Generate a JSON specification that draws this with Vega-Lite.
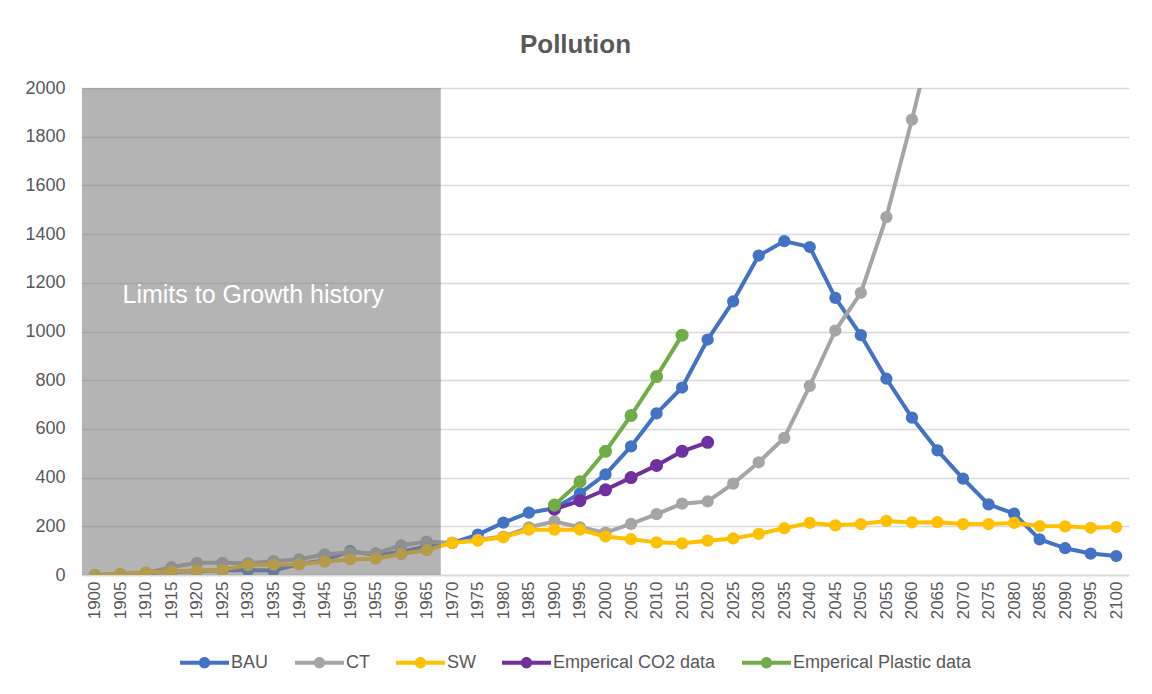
{
  "$schema": "https://vega.github.io/schema/vega-lite/v6.json",
  "width": 1047,
  "height": 487,
  "autosize": "none",
  "padding": {"left": 82, "top": 88, "right": 23, "bottom": 119},
  "background": "white",
  "title": {"text": "Pollution", "fontSize": 26, "fontWeight": "bold", "color": "#595959", "font": "Liberation Sans", "anchor": "middle", "dx": -30, "baseline": "alphabetic", "offset": 0},
  "config": {
    "view": {"stroke": null},
    "font": "Liberation Sans",
    "axis": {"labelColor": "#595959", "labelFont": "Liberation Sans", "titleColor": "#595959"}
  },
  "data": {"values": [
    {"series": "BAU", "year": 1900, "value": 0}, {"series": "BAU", "year": 1905, "value": 3}, {"series": "BAU", "year": 1910, "value": 8}, {"series": "BAU", "year": 1915, "value": 12}, {"series": "BAU", "year": 1920, "value": 16}, {"series": "BAU", "year": 1925, "value": 20}, {"series": "BAU", "year": 1930, "value": 20}, {"series": "BAU", "year": 1935, "value": 18}, {"series": "BAU", "year": 1940, "value": 45}, {"series": "BAU", "year": 1945, "value": 60}, {"series": "BAU", "year": 1950, "value": 98}, {"series": "BAU", "year": 1955, "value": 82}, {"series": "BAU", "year": 1960, "value": 95}, {"series": "BAU", "year": 1965, "value": 118}, {"series": "BAU", "year": 1970, "value": 132}, {"series": "BAU", "year": 1975, "value": 166}, {"series": "BAU", "year": 1980, "value": 215}, {"series": "BAU", "year": 1985, "value": 256}, {"series": "BAU", "year": 1990, "value": 274}, {"series": "BAU", "year": 1995, "value": 335}, {"series": "BAU", "year": 2000, "value": 413}, {"series": "BAU", "year": 2005, "value": 528}, {"series": "BAU", "year": 2010, "value": 664}, {"series": "BAU", "year": 2015, "value": 770}, {"series": "BAU", "year": 2020, "value": 967}, {"series": "BAU", "year": 2025, "value": 1124}, {"series": "BAU", "year": 2030, "value": 1312}, {"series": "BAU", "year": 2035, "value": 1371}, {"series": "BAU", "year": 2040, "value": 1347}, {"series": "BAU", "year": 2045, "value": 1138}, {"series": "BAU", "year": 2050, "value": 985}, {"series": "BAU", "year": 2055, "value": 806}, {"series": "BAU", "year": 2060, "value": 646}, {"series": "BAU", "year": 2065, "value": 512}, {"series": "BAU", "year": 2070, "value": 396}, {"series": "BAU", "year": 2075, "value": 290}, {"series": "BAU", "year": 2080, "value": 252}, {"series": "BAU", "year": 2085, "value": 146}, {"series": "BAU", "year": 2090, "value": 110}, {"series": "BAU", "year": 2095, "value": 88}, {"series": "BAU", "year": 2100, "value": 78},
    {"series": "CT", "year": 1900, "value": 0}, {"series": "CT", "year": 1905, "value": 3}, {"series": "CT", "year": 1910, "value": 8}, {"series": "CT", "year": 1915, "value": 32}, {"series": "CT", "year": 1920, "value": 50}, {"series": "CT", "year": 1925, "value": 50}, {"series": "CT", "year": 1930, "value": 48}, {"series": "CT", "year": 1935, "value": 57}, {"series": "CT", "year": 1940, "value": 64}, {"series": "CT", "year": 1945, "value": 85}, {"series": "CT", "year": 1950, "value": 92}, {"series": "CT", "year": 1955, "value": 89}, {"series": "CT", "year": 1960, "value": 122}, {"series": "CT", "year": 1965, "value": 137}, {"series": "CT", "year": 1970, "value": 132}, {"series": "CT", "year": 1975, "value": 145}, {"series": "CT", "year": 1980, "value": 158}, {"series": "CT", "year": 1985, "value": 196}, {"series": "CT", "year": 1990, "value": 220}, {"series": "CT", "year": 1995, "value": 196}, {"series": "CT", "year": 2000, "value": 174}, {"series": "CT", "year": 2005, "value": 210}, {"series": "CT", "year": 2010, "value": 250}, {"series": "CT", "year": 2015, "value": 293}, {"series": "CT", "year": 2020, "value": 302}, {"series": "CT", "year": 2025, "value": 375}, {"series": "CT", "year": 2030, "value": 463}, {"series": "CT", "year": 2035, "value": 563}, {"series": "CT", "year": 2040, "value": 777}, {"series": "CT", "year": 2045, "value": 1004}, {"series": "CT", "year": 2050, "value": 1159}, {"series": "CT", "year": 2055, "value": 1470}, {"series": "CT", "year": 2060, "value": 1870}, {"series": "CT", "year": 2065, "value": 2300},
    {"series": "SW", "year": 1900, "value": 0}, {"series": "SW", "year": 1905, "value": 4}, {"series": "SW", "year": 1910, "value": 10}, {"series": "SW", "year": 1915, "value": 14}, {"series": "SW", "year": 1920, "value": 18}, {"series": "SW", "year": 1925, "value": 21}, {"series": "SW", "year": 1930, "value": 41}, {"series": "SW", "year": 1935, "value": 42}, {"series": "SW", "year": 1940, "value": 43}, {"series": "SW", "year": 1945, "value": 55}, {"series": "SW", "year": 1950, "value": 64}, {"series": "SW", "year": 1955, "value": 67}, {"series": "SW", "year": 1960, "value": 86}, {"series": "SW", "year": 1965, "value": 102}, {"series": "SW", "year": 1970, "value": 132}, {"series": "SW", "year": 1975, "value": 141}, {"series": "SW", "year": 1980, "value": 155}, {"series": "SW", "year": 1985, "value": 186}, {"series": "SW", "year": 1990, "value": 186}, {"series": "SW", "year": 1995, "value": 186}, {"series": "SW", "year": 2000, "value": 158}, {"series": "SW", "year": 2005, "value": 147}, {"series": "SW", "year": 2010, "value": 134}, {"series": "SW", "year": 2015, "value": 130}, {"series": "SW", "year": 2020, "value": 141}, {"series": "SW", "year": 2025, "value": 150}, {"series": "SW", "year": 2030, "value": 169}, {"series": "SW", "year": 2035, "value": 192}, {"series": "SW", "year": 2040, "value": 214}, {"series": "SW", "year": 2045, "value": 204}, {"series": "SW", "year": 2050, "value": 209}, {"series": "SW", "year": 2055, "value": 222}, {"series": "SW", "year": 2060, "value": 216}, {"series": "SW", "year": 2065, "value": 217}, {"series": "SW", "year": 2070, "value": 209}, {"series": "SW", "year": 2075, "value": 209}, {"series": "SW", "year": 2080, "value": 214}, {"series": "SW", "year": 2085, "value": 201}, {"series": "SW", "year": 2090, "value": 200}, {"series": "SW", "year": 2095, "value": 194}, {"series": "SW", "year": 2100, "value": 197},
    {"series": "Emperical CO2 data", "year": 1990, "value": 270}, {"series": "Emperical CO2 data", "year": 1995, "value": 305}, {"series": "Emperical CO2 data", "year": 2000, "value": 350}, {"series": "Emperical CO2 data", "year": 2005, "value": 400}, {"series": "Emperical CO2 data", "year": 2010, "value": 450}, {"series": "Emperical CO2 data", "year": 2015, "value": 508}, {"series": "Emperical CO2 data", "year": 2020, "value": 545},
    {"series": "Emperical Plastic data", "year": 1990, "value": 287}, {"series": "Emperical Plastic data", "year": 1995, "value": 383}, {"series": "Emperical Plastic data", "year": 2000, "value": 508}, {"series": "Emperical Plastic data", "year": 2005, "value": 655}, {"series": "Emperical Plastic data", "year": 2010, "value": 815}, {"series": "Emperical Plastic data", "year": 2015, "value": 985}
  ]},
  "encoding": {
    "x": {"field": "year", "type": "quantitative", "scale": {"domain": [1897.5, 2102.5], "nice": false, "zero": false},
      "axis": {"title": null, "values": [1900,1905,1910,1915,1920,1925,1930,1935,1940,1945,1950,1955,1960,1965,1970,1975,1980,1985,1990,1995,2000,2005,2010,2015,2020,2025,2030,2035,2040,2045,2050,2055,2060,2065,2070,2075,2080,2085,2090,2095,2100], "format": "d", "labelAngle": 270, "labelFontSize": 17, "labelPadding": 6, "ticks": false, "grid": false, "domainColor": "#d9d9d9", "domainWidth": 1.5, "labelOverlap": false, "labelBound": false, "labelFlush": false}},
    "y": {"field": "value", "type": "quantitative", "scale": {"domain": [0, 2000], "nice": false},
      "axis": {"title": null, "values": [0,200,400,600,800,1000,1200,1400,1600,1800,2000], "format": "d", "labelFontSize": 18, "labelPadding": 17, "ticks": false, "domain": false, "gridColor": "#d9d9d9", "gridWidth": 1.5}},
    "color": {"field": "series", "type": "nominal",
      "scale": {"domain": ["BAU", "CT", "SW", "Emperical CO2 data", "Emperical Plastic data"], "range": ["#4472C4", "#A5A5A5", "#FFC000", "#7030A0", "#70AD47"]},
      "legend": {"title": null, "orient": "none", "direction": "horizontal", "legendX": 98, "legendY": 550, "padding": 0,
        "labelFontSize": 18, "labelColor": "#595959", "labelFont": "Liberation Sans", "labelOffset": 2, "columnPadding": 26, "labelLimit": 400,
        "symbolType": "M-1,-0.08H1V0.08H-1Z M0.23,0A0.23,0.23 0 1 1 -0.23,0A0.23,0.23 0 1 1 0.23,0Z", "symbolSize": 2401, "symbolStrokeWidth": 0,
        "encode": {"symbols": {"update": {"fill": {"scale": "color", "field": "value"}, "stroke": {"value": "transparent"}, "opacity": {"value": 1}}}}}}
  },
  "layer": [
    {"transform": [{"filter": "datum.series == 'BAU'"}], "mark": {"type": "line", "strokeWidth": 4, "clip": true, "strokeJoin": "round", "point": {"size": 150, "filled": true, "opacity": 1}}},
    {"transform": [{"filter": "datum.series == 'CT'"}], "mark": {"type": "line", "strokeWidth": 4, "clip": true, "strokeJoin": "round", "point": {"size": 150, "filled": true, "opacity": 1}}},
    {"transform": [{"filter": "datum.series == 'SW'"}], "mark": {"type": "line", "strokeWidth": 4, "clip": true, "strokeJoin": "round", "point": {"size": 150, "filled": true, "opacity": 1}}},
    {"transform": [{"filter": "datum.series == 'Emperical CO2 data'"}], "mark": {"type": "line", "strokeWidth": 4, "clip": true, "strokeJoin": "round", "point": {"size": 170, "filled": true, "opacity": 1}}},
    {"transform": [{"filter": "datum.series == 'Emperical Plastic data'"}], "mark": {"type": "line", "strokeWidth": 4, "clip": true, "strokeJoin": "round", "point": {"size": 170, "filled": true, "opacity": 1}}},
    {"data": {"values": [{"start": 1897.5, "end": 1967.75, "low": 0, "high": 2000}]},
      "mark": {"type": "rect", "color": "#7f7f7f", "opacity": 0.59},
      "encoding": {"x": {"field": "start", "type": "quantitative"}, "x2": {"field": "end"}, "y": {"field": "low", "type": "quantitative"}, "y2": {"field": "high"}, "color": {"value": "#7f7f7f"}}},
    {"data": {"values": [{"label": "Limits to Growth history", "year": 1931, "value": 1117}]},
      "mark": {"type": "text", "color": "white", "fontSize": 25, "font": "Liberation Sans", "align": "center", "baseline": "alphabetic"},
      "encoding": {"x": {"field": "year", "type": "quantitative"}, "y": {"field": "value", "type": "quantitative"}, "text": {"field": "label"}, "color": {"value": "white"}}}
  ]
}
